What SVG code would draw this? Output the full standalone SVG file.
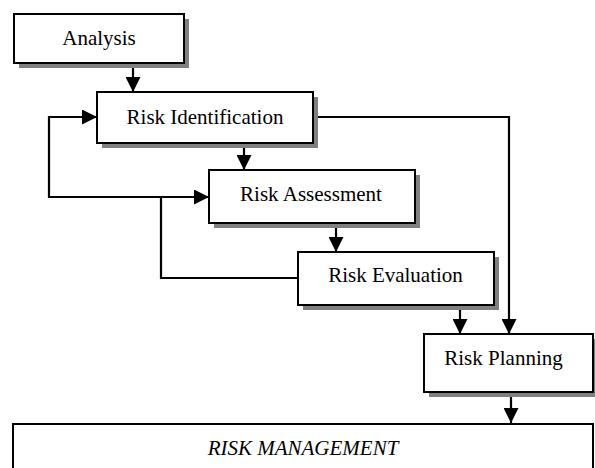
<svg xmlns="http://www.w3.org/2000/svg" width="595" height="468" viewBox="0 0 595 468">
<style>
.shadow{fill:#808080;stroke:none}
.box{fill:#fff;stroke:#000;stroke-width:2}
.lbl{font-family:"Liberation Serif","Times New Roman",serif;font-size:21px;fill:#000;text-anchor:middle}
.it{font-style:italic}
.conn{fill:none;stroke:#000;stroke-width:2.2}
</style>
<defs>
<marker id="arr" markerUnits="userSpaceOnUse" markerWidth="15" markerHeight="15" viewBox="0 0 15 15" refX="15" refY="7.5" orient="auto">
<path d="M0,0 L15,7.5 L0,15 z" fill="#000"/>
</marker>
</defs>
<rect x="0" y="0" width="595" height="468" fill="#fff"/>
<g id="connectors">
<path class="conn" d="M133,63 V92" marker-end="url(#arr)"/>
<path class="conn" d="M298,278 H161 V197 H209" marker-end="url(#arr)"/>
<path class="conn" d="M161,197 H49 V117 H97" marker-end="url(#arr)"/>
<path class="conn" d="M244,143 V170" marker-end="url(#arr)"/>
<path class="conn" d="M336,223 V252" marker-end="url(#arr)"/>
<path class="conn" d="M313,117 H509 V334" marker-end="url(#arr)"/>
<path class="conn" d="M460,305 V334" marker-end="url(#arr)"/>
<path class="conn" d="M511,392 V423" marker-end="url(#arr)"/>
</g>
<g id="analysis">
<rect class="shadow" x="19" y="19" width="170" height="49"/>
<rect class="box" x="14" y="14" width="170" height="49"/>
<text class="lbl" x="99" y="45">Analysis</text>
</g>
<g id="risk-identification">
<rect class="shadow" x="102" y="97" width="216" height="51"/>
<rect class="box" x="97" y="92" width="216" height="51"/>
<text class="lbl" x="205" y="124">Risk Identification</text>
</g>
<g id="risk-assessment">
<rect class="shadow" x="214" y="175" width="206" height="53"/>
<rect class="box" x="209" y="170" width="206" height="53"/>
<text class="lbl" x="311" y="201">Risk Assessment</text>
</g>
<g id="risk-evaluation">
<rect class="shadow" x="303" y="257" width="196" height="53"/>
<rect class="box" x="298" y="252" width="196" height="53"/>
<text class="lbl" x="395.5" y="282">Risk Evaluation</text>
</g>
<g id="risk-planning">
<rect class="shadow" x="429" y="339" width="169" height="58"/>
<rect class="box" x="424" y="334" width="169" height="58"/>
<text class="lbl" x="503.5" y="365">Risk Planning</text>
</g>
<g id="risk-management">
<rect class="box" x="13" y="424" width="580" height="60"/>
<text class="lbl it" x="303" y="455">RISK MANAGEMENT</text>
</g>
</svg>
